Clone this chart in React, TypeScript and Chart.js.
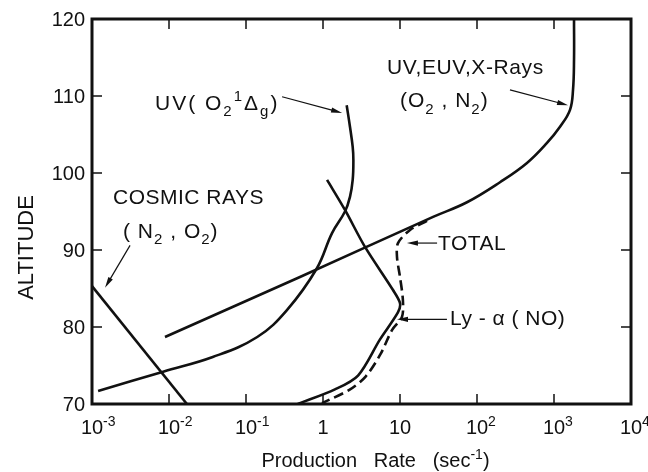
import React, { useEffect, useRef } from "react";
import { Chart, registerables } from "chart.js";

Chart.register(...registerables);

// ---- Data (production rate in sec^-1, altitude in km) ----
const cosmicRate = [0.001, 0.0171];
const cosmicAlt = [85.3, 70];

const uvO2Rate = [0.0012, 0.0084, 0.037, 0.14, 0.34, 0.83, 1.31, 1.93, 2.24, 2.43, 2.48, 2.43, 2.24, 2.03];
const uvO2Alt = [71.7, 74.2, 76.1, 78.7, 82.2, 87.6, 92.2, 95.0, 96.9, 99.1, 101.7, 103.4, 106.0, 108.8];

const xrayRate = [0.00887, 0.502, 26.9, 74.1, 199, 446, 811, 1197, 1614, 1766, 1820, 1820];
const xrayAlt = [78.7, 86.5, 94.3, 96.2, 98.8, 101.3, 103.9, 106.0, 108.2, 110.8, 114.7, 120];

const lyaRate = [1.13, 1.93, 3.51, 8.11, 10.0, 9.4, 5.5, 2.85, 1.43, 0.47];
const lyaAlt = [99.1, 95.2, 90.4, 84.8, 83.1, 81.9, 78.4, 73.7, 71.9, 70];

const totalRate = [22.4, 13.5, 9.42, 9.14, 10.0, 10.9, 10.6, 7.87, 5.6, 3.6, 2.25, 0.97];
const totalAlt = [93.8, 92.6, 90.9, 89.1, 86.5, 83.5, 81.3, 79.6, 76.5, 73.6, 71.9, 70.1];

const xTickValues = [1e-3, 1e-2, 1e-1, 1, 10, 100, 1000, 10000];
const xTickLabels = ["10^{-3}", "10^{-2}", "10^{-1}", "1", "10", "10^{2}", "10^{3}", "10^{4}"];
const yTickValues = [70, 80, 90, 100, 110, 120];
const yTickLabels = ["70", "80", "90", "100", "110", "120"];

const xTitle = "Production   Rate   (sec^{-1})";
const yTitle = "ALTITUDE";

// annotation labels: text, anchor (left edge, vertical middle) in data coordinates
const labelTexts = ["UV( O_{2}^{1}Δ_{g})", "COSMIC RAYS", "( N_{2} , O_{2})", "UV,EUV,X-Rays", "(O_{2} , N_{2})", "TOTAL", "Ly - α ( NO)"];
const labelRates = [0.00658, 0.001875, 0.00253, 6.78, 10.0, 31.2, 44.6];
const labelAlts = [109.2, 97.0, 92.6, 113.8, 109.5, 91.0, 81.2];
const labelSpacing = [2, 0.5, 1, 0.6, 1, 0.5, 0.5];

// annotation arrows: from -> to in data coordinates
const arrowFromRate = [0.294, 268, 0.00312, 30.3, 40.7];
const arrowFromAlt = [109.9, 110.8, 90.6, 90.9, 81.0];
const arrowToRate = [1.77, 1521, 0.001475, 12.3, 9.14];
const arrowToAlt = [107.8, 108.8, 85.1, 90.9, 81.0];

const FAMILY = "'Liberation Sans', Arial, sans-serif";
const INK = "#111";

const pts = (xs: number[], ys: number[]) => xs.map((v, i) => ({ x: v, y: ys[i] }));

type Seg = { t: string; m: "n" | "sub" | "sup" };
function parseRich(s: string): Seg[] {
  const segs: Seg[] = [];
  let buf = "";
  for (let i = 0; i < s.length; i++) {
    const c = s[i];
    if (c === "_" || c === "^") {
      if (buf) {
        segs.push({ t: buf, m: "n" });
        buf = "";
      }
      let t = "";
      if (s[i + 1] === "{") {
        const j = s.indexOf("}", i + 2);
        t = s.slice(i + 2, j);
        i = j;
      } else {
        t = s[i + 1];
        i++;
      }
      segs.push({ t, m: c === "_" ? "sub" : "sup" });
    } else buf += c;
  }
  if (buf) segs.push({ t: buf, m: "n" });
  return segs;
}

function drawRich(
  ctx: CanvasRenderingContext2D,
  s: string,
  x: number,
  yMid: number,
  size: number,
  align: "left" | "center" | "right" | "mainCenter",
  spacing = 0
) {
  const segs = parseRich(s);
  const small = Math.round(size * 0.72);
  (ctx as any).letterSpacing = spacing + "px";
  const widths = segs.map((sg) => {
    ctx.font = `${sg.m === "n" ? size : small}px ${FAMILY}`;
    return ctx.measureText(sg.t).width;
  });
  const total = widths.reduce((a, b) => a + b, 0);
  let cx = x;
  if (align === "center") cx = x - total / 2;
  if (align === "right") cx = x - total;
  if (align === "mainCenter") cx = x - widths[0] / 2;
  const base = yMid + size * 0.36;
  ctx.textAlign = "left";
  ctx.textBaseline = "alphabetic";
  segs.forEach((sg, i) => {
    ctx.font = `${sg.m === "n" ? size : small}px ${FAMILY}`;
    let yy = base;
    if (sg.m === "sub") yy = base + size * 0.3;
    if (sg.m === "sup") yy = base - size * 0.42;
    ctx.fillText(sg.t, cx, yy);
    cx += widths[i];
  });
  (ctx as any).letterSpacing = "0px";
}

function drawArrow(ctx: CanvasRenderingContext2D, x1: number, y1: number, x2: number, y2: number) {
  const ang = Math.atan2(y2 - y1, x2 - x1);
  const len = 11;
  const hw = 2.6;
  ctx.beginPath();
  ctx.moveTo(x1, y1);
  ctx.lineTo(x2 - Math.cos(ang) * len * 0.7, y2 - Math.sin(ang) * len * 0.7);
  ctx.stroke();
  ctx.beginPath();
  ctx.moveTo(x2, y2);
  ctx.lineTo(x2 - Math.cos(ang) * len - Math.sin(ang) * hw, y2 - Math.sin(ang) * len + Math.cos(ang) * hw);
  ctx.lineTo(x2 - Math.cos(ang) * len + Math.sin(ang) * hw, y2 - Math.sin(ang) * len - Math.cos(ang) * hw);
  ctx.closePath();
  ctx.fill();
}

const overlay = {
  id: "overlay",
  afterDraw(chart: any) {
    const { ctx, chartArea: a } = chart;
    const xs = chart.scales.x;
    const ys = chart.scales.y;
    ctx.save();
    ctx.strokeStyle = INK;
    ctx.fillStyle = INK;

    // inward tick marks
    ctx.lineWidth = 1.5;
    ctx.beginPath();
    xTickValues.slice(1, -1).forEach((v) => {
      const px = xs.getPixelForValue(v);
      ctx.moveTo(px, a.bottom);
      ctx.lineTo(px, a.bottom - 10);
      ctx.moveTo(px, a.top);
      ctx.lineTo(px, a.top + 10);
    });
    yTickValues.slice(1, -1).forEach((v) => {
      const py = ys.getPixelForValue(v);
      ctx.moveTo(a.left, py);
      ctx.lineTo(a.left + 10, py);
      ctx.moveTo(a.right, py);
      ctx.lineTo(a.right - 10, py);
    });
    ctx.stroke();

    // frame
    ctx.lineWidth = 3;
    ctx.strokeRect(a.left, a.top, a.right - a.left, a.bottom - a.top);

    // tick labels
    yTickValues.forEach((v, i) => {
      drawRich(ctx, yTickLabels[i], a.left - 7, ys.getPixelForValue(v), 20, "right");
    });
    xTickValues.forEach((v, i) => {
      drawRich(ctx, xTickLabels[i], xs.getPixelForValue(v), a.bottom + 23, 20, "mainCenter");
    });

    // axis titles
    drawRich(ctx, xTitle, (a.left + a.right) / 2 + 14, a.bottom + 56, 20, "center");
    ctx.save();
    ctx.translate(25, (a.top + a.bottom) / 2 + 36);
    ctx.rotate(-Math.PI / 2);
    drawRich(ctx, yTitle, 0, 0, 22, "center");
    ctx.restore();

    // annotation labels
    labelTexts.forEach((t, i) => {
      drawRich(ctx, t, xs.getPixelForValue(labelRates[i]), ys.getPixelForValue(labelAlts[i]), 21, "left", labelSpacing[i]);
    });

    // arrows
    ctx.lineWidth = 1.2;
    arrowFromRate.forEach((_, i) => {
      drawArrow(
        ctx,
        xs.getPixelForValue(arrowFromRate[i]),
        ys.getPixelForValue(arrowFromAlt[i]),
        xs.getPixelForValue(arrowToRate[i]),
        ys.getPixelForValue(arrowToAlt[i])
      );
    });
    ctx.restore();
  },
};

export default function App() {
  const ref = useRef<HTMLCanvasElement | null>(null);
  useEffect(() => {
    if (!ref.current) return;
    const lineDs = (data: any, extra: any = {}) => ({
      data,
      showLine: true,
      borderColor: INK,
      backgroundColor: INK,
      borderWidth: 2.6,
      pointRadius: 0,
      fill: false,
      ...extra,
    });
    const chart = new Chart(ref.current, {
      type: "scatter",
      data: {
        datasets: [
          lineDs(pts(cosmicRate, cosmicAlt), { label: "Cosmic rays", tension: 0 }),
          lineDs(pts(uvO2Rate, uvO2Alt), { label: "UV(O2 1Δg)", tension: 0.4 }),
          lineDs(pts(xrayRate, xrayAlt), { label: "UV,EUV,X-Rays", tension: 0.4 }),
          lineDs(pts(lyaRate, lyaAlt), { label: "Ly-α (NO)", tension: 0.3 }),
          lineDs(pts(totalRate, totalAlt), { label: "Total", tension: 0.3, borderDash: [10, 5] }),
        ],
      },
      options: {
        animation: false,
        responsive: false,
        maintainAspectRatio: false,
        layout: { padding: { left: 92, right: 17, top: 19, bottom: 68 } },
        plugins: { legend: { display: false }, tooltip: { enabled: false } },
        scales: {
          x: { type: "logarithmic", min: 1e-3, max: 1e4, display: false },
          y: { type: "linear", min: 70, max: 120, display: false },
        },
      },
      plugins: [overlay],
    });
    return () => chart.destroy();
  }, []);
  return (
    <div style={{ position: "absolute", left: 0, top: 0, width: 648, height: 472, background: "#fff" }}>
      <canvas ref={ref} width={648} height={472} style={{ width: 648, height: 472, display: "block" }} />
    </div>
  );
}
